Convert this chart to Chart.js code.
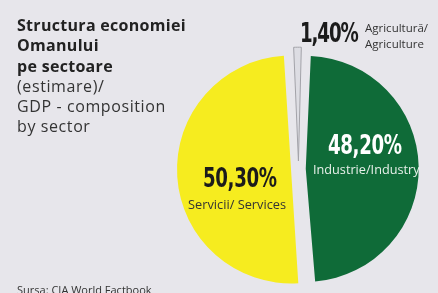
<!DOCTYPE html>
<html>
<head>
<meta charset="utf-8">
<script src="https://cdn.jsdelivr.net/npm/chart.js@4/dist/chart.umd.min.js"></script>
<style>
  html, body { margin: 0; padding: 0; }
  body { width: 438px; height: 293px; background: #e7e6eb; position: relative; overflow: hidden; font-family: "Open Sans", sans-serif; }
  #chart { position: absolute; left: 0; top: 0; }
  .lbl { position: absolute; white-space: nowrap; }
  .title { left: 17px; top: 15px; line-height: 20.3px; font-size: 16px; color: #222; }
  .title b { font-weight: 700; letter-spacing: 0.3px; }
  .title span { color: #333; letter-spacing: 0.6px; }
  .pct { font-family: "Liberation Sans Narrow", "DejaVu Sans Condensed", sans-serif; font-weight: 700; font-size: 27px; line-height: 27px; letter-spacing: -0.5px; transform: scaleX(0.75); transform-origin: 0 0; }
  .name { font-size: 12px; line-height: 16px; }
</style>
</head>
<body>
<canvas id="chart" width="438" height="293"></canvas>

<div class="lbl title"><b>Structura economiei<br>Omanului<br>pe sectoare</b><br><span>(estimare)/<br>GDP - composition<br>by sector</span></div>

<div class="lbl pct" id="pct0" style="left:300px; top:19px; color:#1b1b1b; letter-spacing:-1.5px;"></div>
<div class="lbl name" id="name0" style="left:365px; top:20px; color:#333; font-size:11.5px;"></div>

<div class="lbl pct" id="pct1" style="left:328px; top:131px; color:#fff;"></div>
<div class="lbl name" id="name1" style="left:313px; top:161px; color:#e8f0ea; font-size:12.7px;"></div>

<div class="lbl pct" id="pct2" style="left:203px; top:164px; color:#1b1b1b;"></div>
<div class="lbl name" id="name2" style="left:188px; top:196px; color:#333; font-size:12.8px;"></div>

<div class="lbl name" style="left:17px; top:282px; color:#333; font-size:11px;">Sursa: CIA World Factbook</div>

<script>
// date: structura PIB Oman pe sectoare (%)
const sectors = ['Agricultură/<br>Agriculture', 'Industrie/Industry', 'Servicii/ Services'];
const shares = [1.4, 48.2, 50.3];
const colors = ['#dddde3', '#0f6b38', '#f6ec1f'];

// etichete procentuale
shares.forEach(function (v, i) {
    document.getElementById('pct' + i).textContent = v.toFixed(2).replace('.', ',') + '%';
    document.getElementById('name' + i).innerHTML = sectors[i];
});

const ctx = document.getElementById('chart').getContext('2d');
new Chart(ctx, {
    type: 'pie',
    data: {
        labels: sectors,
        datasets: [{
            data: shares,
            backgroundColor: colors,
            borderColor: ['#a2a2a8', '#0f6b38', '#f6ec1f'],
            borderWidth: [1, 0, 0],
            offset: [32, 29, 30]
        }]
    },
    options: {
        responsive: false,
        animation: false,
        events: [],
        rotation: -3,
        radius: 106.5,
        layout: { padding: { left: 180, right: 21, top: 56, bottom: 11 } },
        plugins: {
            legend: { display: false },
            tooltip: { enabled: false }
        }
    }
});
</script>
</body>
</html>
